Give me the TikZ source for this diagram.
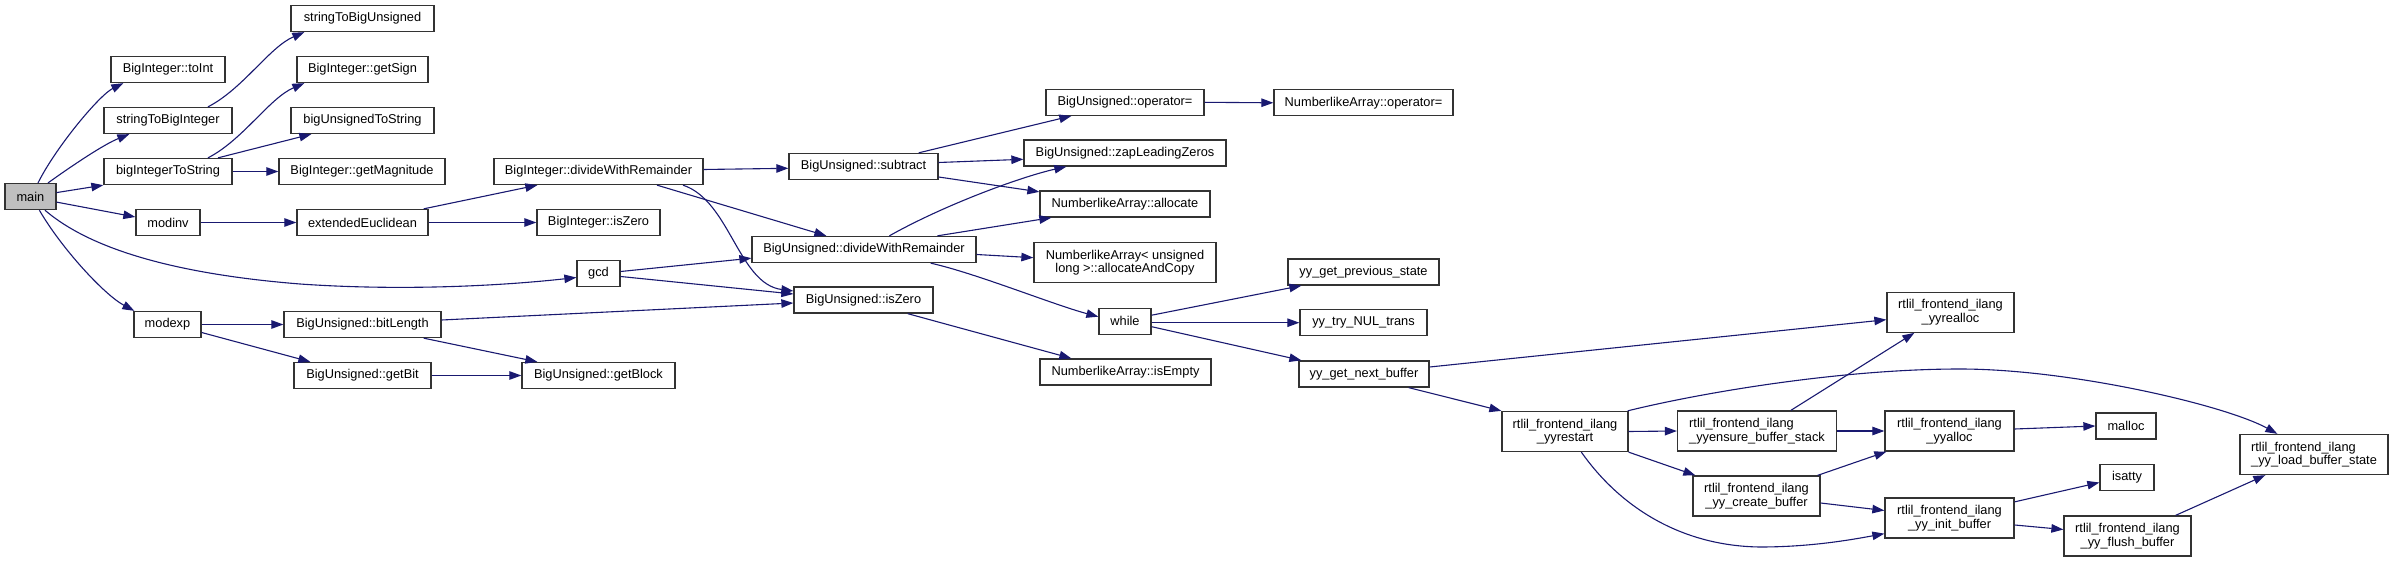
\documentclass[tikz,border=0pt]{standalone}
\usepackage{fontspec}
\setmainfont{Liberation Sans}
\usetikzlibrary{arrows.meta,calc}
\definecolor{edgeblue}{HTML}{191970}
\definecolor{maingray}{HTML}{BFBFBF}
\definecolor{boxline}{HTML}{333333}
\tikzset{
  box/.style={draw=boxline, line width=1.3pt, fill=white, inner sep=0pt,
    minimum height=26pt, align=center, font=\fontsize{12.8}{13.5}\selectfont},
  box2/.style={box, minimum height=40pt},
  e/.style={draw=edgeblue, line width=1.1pt, -{Triangle[length=12pt,width=8.5pt]}},
}
\begin{document}
\begin{tikzpicture}[x=1pt,y=1pt]
\useasboundingbox (0,0) rectangle (2389,-561);
% column 1
\node[box, fill=maingray, minimum width=51pt] (main) at (30.4,-196.6) {main};
% column 2
\node[box, minimum width=114pt] (toInt) at (168,-69.5) {BigInteger::toInt};
\node[box, minimum width=128pt] (s2bi) at (168,-120.5) {stringToBigInteger};
\node[box, minimum width=128pt] (bi2s) at (168,-171.5) {bigIntegerToString};
\node[box, minimum width=64pt] (modinv) at (168,-222.5) {modinv};
\node[box, minimum width=67pt] (modexp) at (167.5,-324.5) {modexp};
% column 3
\node[box, minimum width=143pt] (s2bu) at (362.5,-18.5) {stringToBigUnsigned};
\node[box, minimum width=131pt] (getSign) at (362.5,-69.5) {BigInteger::getSign};
\node[box, minimum width=143pt] (bu2s) at (362.5,-120.5) {bigUnsignedToString};
\node[box, minimum width=166pt] (getMag) at (362,-171.5) {BigInteger::getMagnitude};
\node[box, minimum width=131pt] (extE) at (362.5,-222.5) {extendedEuclidean};
\node[box, minimum width=157pt] (bitLen) at (362.5,-324.5) {BigUnsigned::bitLength};
\node[box, minimum width=137pt] (getBit) at (362.5,-375.5) {BigUnsigned::getBit};
% column 4
\node[box, minimum width=209pt] (BIdwr) at (598.5,-171.5) {BigInteger::divideWithRemainder};
\node[box, minimum width=123pt] (BIisZero) at (598.5,-222.5) {BigInteger::isZero};
\node[box, minimum width=43pt] (gcd) at (598.5,-273.5) {gcd};
\node[box, minimum width=153pt] (getBlock) at (598.5,-375.5) {BigUnsigned::getBlock};
% column 5
\node[box, minimum width=149pt] (subtract) at (863.5,-166.5) {BigUnsigned::subtract};
\node[box, minimum width=224pt] (BUdwr) at (864,-249.5) {BigUnsigned::divideWithRemainder};
\node[box, minimum width=139pt] (BUisZero) at (863.5,-300) {BigUnsigned::isZero};
% column 6
\node[box, minimum width=158pt] (opEq) at (1125,-102.3) {BigUnsigned::operator=};
\node[box, minimum width=202pt] (zap) at (1125,-153) {BigUnsigned::zapLeadingZeros};
\node[box, minimum width=170pt] (alloc) at (1125,-204) {NumberlikeArray::allocate};
\node[box2, minimum width=182pt] (allocCopy) at (1125,-262.7) {NumberlikeArray< unsigned\\long >::allocateAndCopy};
\node[box, minimum width=52pt] (while) at (1125,-321.2) {while};
\node[box, minimum width=171pt] (isEmpty) at (1125.5,-372) {NumberlikeArray::isEmpty};
% column 7
\node[box, minimum width=179pt] (NAopEq) at (1363.5,-102.8) {NumberlikeArray::operator=};
\node[box, minimum width=151pt] (prevState) at (1363.5,-272) {yy\_get\_previous\_state};
\node[box, minimum width=127pt] (nulTrans) at (1363.5,-322.7) {yy\_try\_NUL\_trans};
\node[box, minimum width=130pt] (nextBuf) at (1364,-374) {yy\_get\_next\_buffer};
% column 8
\node[box2, minimum width=126pt] (restart) at (1565,-431.5) {rtlil\_frontend\_ilang\\\_yyrestart};
% column 9
\node[box2, minimum width=159pt, align=left] (ensure) at (1757,-431) {rtlil\_frontend\_ilang\\\_yyensure\_buffer\_stack};
\node[box2, minimum width=127pt] (create) at (1756.5,-496) {rtlil\_frontend\_ilang\\\_yy\_create\_buffer};
% column 10
\node[box2, minimum width=127pt] (realloc) at (1950.5,-312.2) {rtlil\_frontend\_ilang\\\_yyrealloc};
\node[box2, minimum width=129pt] (yyalloc) at (1949.5,-431) {rtlil\_frontend\_ilang\\\_yyalloc};
\node[box2, minimum width=129pt] (init) at (1949.5,-518) {rtlil\_frontend\_ilang\\\_yy\_init\_buffer};
% column 11
\node[box, minimum width=60pt] (malloc) at (2126,-426) {malloc};
\node[box, minimum width=54pt] (isatty) at (2127,-477.5) {isatty};
\node[box2, minimum width=127pt] (flush) at (2127.5,-536) {rtlil\_frontend\_ilang\\\_yy\_flush\_buffer};
% column 12
\node[box2, minimum width=148pt, align=left] (lbs) at (2314,-454.5) {rtlil\_frontend\_ilang\\\_yy\_load\_buffer\_state};

% edges from main
\draw[e] ([xshift=7.6]main.north) .. controls +(18,36) and +(-24,-12) .. ([xshift=13]toInt.south west);
\draw[e] ([xshift=17.6]main.north) .. controls +(25,18) and +(-25,-10) .. ([xshift=26]s2bi.south west);
\draw[e] ([yshift=4]main.east) -- (bi2s.south west);
\draw[e] ([yshift=-5.5]main.east) -- ([yshift=5.5]modinv.west);
\draw[e] ([xshift=14.6]main.south) .. controls +(35,-30) and (150,-272) .. (300,-284)
  .. controls (400,-291) and (500,-286) .. ([yshift=-4]gcd.west);
\draw[e] ([xshift=9]main.south) .. controls +(22,-38) and +(-30,16) .. ([xshift=1]modexp.north west);
% column 2 -> 3
\draw[e] ([xshift=40]s2bi.north) .. controls +(35,18) and +(-35,-15) .. ([xshift=14]s2bu.south west);
\draw[e] ([xshift=40]bi2s.north) .. controls +(35,18) and +(-35,-15) .. ([xshift=8]getSign.south west);
\draw[e] ([xshift=50]bi2s.north) -- ([xshift=21]bu2s.south west);
\draw[e] (bi2s.east) -- (getMag.west);
\draw[e] (modinv.east) -- (extE.west);
\draw[e] (modexp.east) -- (bitLen.west);
\draw[e] ([yshift=-8]modexp.east) -- ([xshift=17]getBit.north west);
% column 3 -> 4/5
\draw[e] ([xshift=-5]extE.north east) -- ([xshift=44]BIdwr.south west);
\draw[e] (extE.east) -- (BIisZero.west);
\draw[e] ([yshift=4.5]bitLen.east) -- ([yshift=-3]BUisZero.west);
\draw[e] ([xshift=-18]bitLen.south east) -- ([xshift=16]getBlock.north west);
\draw[e] (getBit.east) -- (getBlock.west);
% column 4 -> 5
\draw[e] ([yshift=2]BIdwr.east) -- ([yshift=-1.8]subtract.west);
\draw[e] ([xshift=58.5]BIdwr.south) -- ([xshift=75]BUdwr.north west);
\draw[e] ([xshift=84.5]BIdwr.south) .. controls +(47,-15.5) and +(-55,7) .. ([yshift=9]BUisZero.west);
\draw[e] ([yshift=2]gcd.east) -- ([yshift=-8.7]BUdwr.west);
\draw[e] ([yshift=-3]gcd.east) -- ([yshift=6]BUisZero.west);
% column 5 -> 6
\draw[e] ([xshift=-20]subtract.north east) -- ([xshift=26]opEq.south west);
\draw[e] ([yshift=4]subtract.east) -- ([yshift=-6.3]zap.west);
\draw[e] ([yshift=-10.5]subtract.east) -- ([yshift=-1.5]alloc.north west);
\draw[e] ([xshift=138]BUdwr.north west) .. controls +(55,31) and +(-45,-10) .. ([xshift=43]zap.south west);
\draw[e] ([xshift=186]BUdwr.north west) -- ([xshift=12]alloc.south west);
\draw[e] ([yshift=-5]BUdwr.east) -- ([yshift=5]allocCopy.west);
\draw[e] ([xshift=-46]BUdwr.south east) .. controls +(45,-10) and +(-45,12) .. ([yshift=4.5]while.west);
\draw[e] ([xshift=-26]BUisZero.south east) -- ([xshift=32]isEmpty.north west);
% column 6 -> 7
\draw[e] (opEq.east) -- (NAopEq.west);
\draw[e] ([yshift=6]while.east) -- ([xshift=14]prevState.south west);
\draw[e] ([yshift=-1.5]while.east) -- (nulTrans.west);
\draw[e] ([yshift=-5.5]while.east) -- ([xshift=3]nextBuf.north west);
% column 7 -> 8/10
\draw[e] ([yshift=7]nextBuf.east) -- ([yshift=-7.5]realloc.west);
\draw[e] ([xshift=-21]nextBuf.south east) -- (restart.north west);
% yyrestart
\draw[e] ([xshift=-1]restart.north east) .. controls (1700,-393) and (1840,-369) .. (1960,-369)
  .. controls (2070,-369) and (2225,-405) .. ([xshift=38]lbs.north west);
\draw[e] (restart.east) -- (ensure.west);
\draw[e] (restart.south east) -- ([xshift=3]create.north west);
\draw[e] ([xshift=80]restart.south west) .. controls +(38,-54) and (1680,-546) .. (1760,-547)
  .. controls (1810,-547) and (1850,-540) .. ([yshift=5]init.south west);
% column 9 -> 10
\draw[e] ([xshift=114]ensure.north west) -- ([xshift=28]realloc.south west);
\draw[e] (ensure.east) -- (yyalloc.west);
\draw[e] ([xshift=-3]create.north east) -- ([xshift=2]yyalloc.south west);
\draw[e] ([yshift=-7]create.east) -- ([yshift=7.5]init.west);
% column 10 -> 11/12
\draw[e] ([yshift=2]yyalloc.east) -- (malloc.west);
\draw[e] ([yshift=-4.5]init.north east) -- ([yshift=-5]isatty.west);
\draw[e] ([yshift=-7]init.east) -- ([yshift=6.5]flush.west);
\draw[e] ([xshift=-16]flush.north east) -- ([xshift=26]lbs.south west);
\end{tikzpicture}
\end{document}
